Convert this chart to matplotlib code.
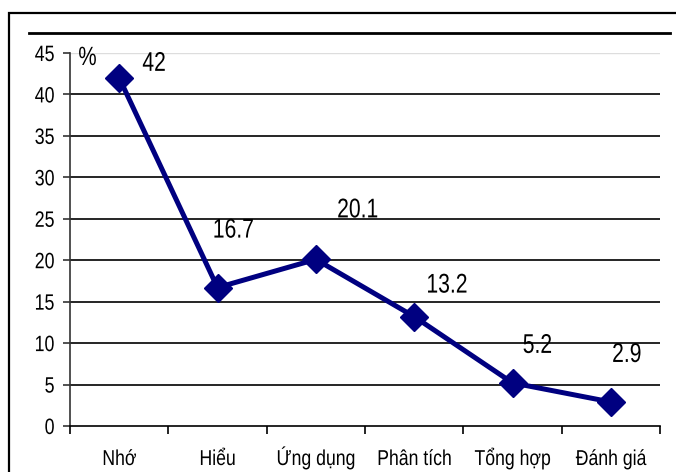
import matplotlib.pyplot as plt
from matplotlib.lines import Line2D
from matplotlib.patches import Rectangle
from matplotlib.patheffects import AbstractPathEffect
from matplotlib.transforms import Affine2D

categories = ['Nhớ', 'Hiểu', 'Ứng dụng', 'Phân tích', 'Tổng hợp', 'Đánh giá']
values = [42, 16.7, 20.1, 13.2, 5.2, 2.9]
value_labels = ['42', '16.7', '20.1', '13.2', '5.2', '2.9']
# label offsets from each point, in pixels (right, up)
label_offsets = [(35, 14), (16, 57), (42, 49), (33, 31), (25, 37), (16, 47)]
yticks = [0, 5, 10, 15, 20, 25, 30, 35, 40, 45]

plt.rcParams['font.family'] = ['Liberation Sans', 'DejaVu Sans']


class Squeeze(AbstractPathEffect):
    # narrow the glyphs horizontally (no Arial Narrow available)
    def __init__(self, sx=0.78, anchor='center'):
        super().__init__()
        self.sx = sx
        self.anchor = anchor

    def draw_path(self, renderer, gc, tpath, affine, rgbFace=None):
        ext = tpath.get_extents()
        if self.anchor == 'right':
            cx = ext.x1
        elif self.anchor == 'left':
            cx = ext.x0
        else:
            cx = (ext.x0 + ext.x1) / 2
        t = Affine2D().translate(-cx, 0).scale(self.sx, 1).translate(cx, 0) + affine
        renderer.draw_path(gc, tpath, t, rgbFace)


W, H = 676, 472
px = 72 / 100  # pixels -> points
fig = plt.figure(figsize=(W / 100, H / 100), dpi=100)
ax = fig.add_axes([70 / W, 1 - 426 / H, 590 / W, 373 / H])

# outer frame (cut off at right and bottom) and top rule
fig.add_artist(Rectangle((9 / W, -0.1), 1.2, (H - 13) / H + 0.1, transform=fig.transFigure,
                         fill=False, edgecolor='black', linewidth=1.6))
fig.add_artist(Line2D([29 / W, 670 / W], [1 - 33 / H, 1 - 33 / H], transform=fig.transFigure,
                      color='black', linewidth=2))

x = list(range(len(categories)))
ax.set_xlim(-0.5, len(categories) - 0.5)
ax.set_ylim(0, 45)

for t in yticks[1:-1]:
    ax.axhline(t, color='black', linewidth=1.2, zorder=1)
ax.axhline(45, color='#dddddd', linewidth=1, zorder=1)

ax.plot(x, values, color='#000080', linewidth=3.6, marker='D', markersize=14, zorder=3)

for xi, v, lab, (dx, dy) in zip(x, values, value_labels, label_offsets):
    ax.annotate(lab, (xi, v), xytext=(dx * px, dy * px), textcoords='offset points',
                ha='center', va='center', fontsize=19.5, path_effects=[Squeeze(0.78)])

for s in ['top', 'right']:
    ax.spines[s].set_visible(False)
ax.spines['left'].set_linewidth(1.2)
ax.spines['left'].set_color('#333333')
ax.spines['bottom'].set_linewidth(1.2)

ax.set_yticks(yticks)
ax.set_yticklabels([str(t) for t in yticks], fontsize=16)
ax.tick_params(axis='y', length=5, width=1.2, pad=6, color='#333333')
for lab in ax.get_yticklabels():
    lab.set_path_effects([Squeeze(0.8, 'right')])

ax.set_xticks([i - 0.5 for i in range(len(categories) + 1)])
ax.set_xticklabels([])
ax.tick_params(axis='x', length=6, width=1.2)
for xi, c in zip(x, categories):
    ax.text(xi, -39 / 373, c, transform=ax.get_xaxis_transform(), ha='center', va='baseline',
            fontsize=15.5, path_effects=[Squeeze(0.82)])

ax.text(17.5 / 590, 1 - 5 / 373, '%', transform=ax.transAxes, ha='center', va='center',
        fontsize=19, path_effects=[Squeeze(0.78)])

fig.savefig('out.png', dpi=100)
